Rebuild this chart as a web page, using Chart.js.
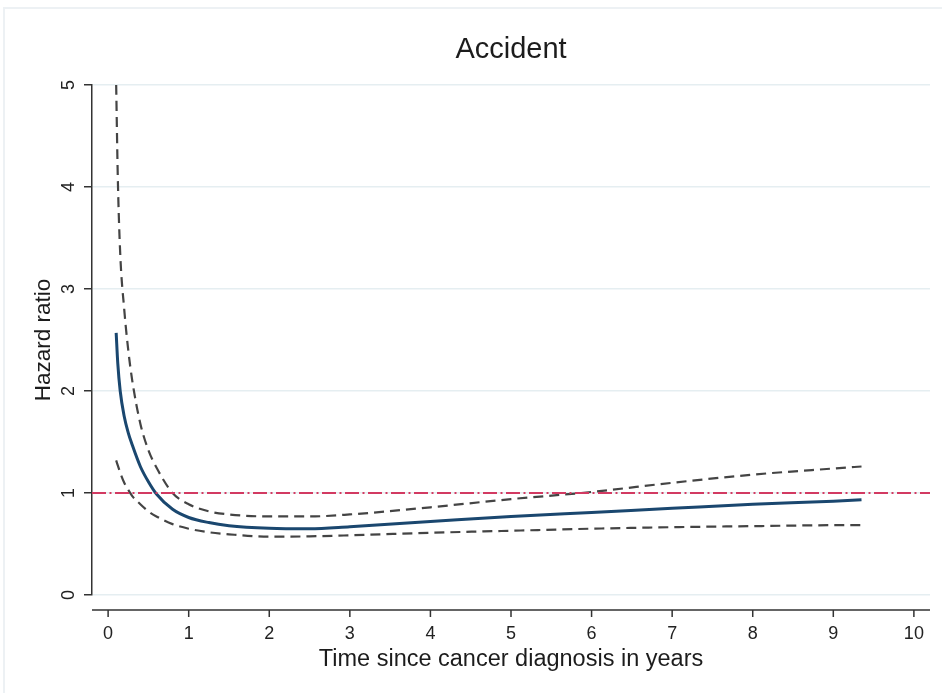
<!DOCTYPE html>
<html>
<head>
<meta charset="utf-8">
<title>Accident</title>
<script src="https://cdn.jsdelivr.net/npm/chart.js@4/dist/chart.umd.min.js"></script>
<style>
  html, body { margin: 0; padding: 0; background: #ffffff; }
  canvas { display: block; }
</style>
</head>
<body>
<canvas id="chart" width="942" height="693"></canvas>
<script>
// Time since diagnosis (years) at which the curves are sampled
const years = [0.1, 0.12, 0.15, 0.2, 0.25, 0.3, 0.4, 0.5, 0.6, 0.8, 1.0, 1.25, 1.5, 2.0, 2.5, 3, 4, 5, 6, 7, 8, 9, 9.35];
// Hazard ratio estimate
const hazardRatio = [2.57, 2.27, 2.0, 1.75, 1.59, 1.47, 1.26, 1.11, 0.99, 0.84, 0.76, 0.71, 0.68, 0.655, 0.65, 0.67, 0.72, 0.77, 0.81, 0.85, 0.89, 0.92, 0.935];
// Upper 95% confidence limit
const upperCI = [5.0, 4.1, 3.35, 2.8, 2.4, 2.1, 1.68, 1.42, 1.25, 1.0, 0.89, 0.82, 0.79, 0.77, 0.77, 0.79, 0.86, 0.94, 1.01, 1.1, 1.18, 1.24, 1.26];
// Lower 95% confidence limit
const lowerCI = [1.32, 1.27, 1.2, 1.1, 1.03, 0.97, 0.89, 0.82, 0.77, 0.695, 0.65, 0.615, 0.595, 0.572, 0.575, 0.585, 0.61, 0.63, 0.65, 0.665, 0.675, 0.685, 0.686];
// Reference line (no difference in hazard)
const referenceHR = 1;
const xRange = [-0.2, 10.2];
const xTicks = [0, 1, 2, 3, 4, 5, 6, 7, 8, 9, 10];
const yTicks = [0, 1, 2, 3, 4, 5];
const chartTitle = 'Accident';

const FONT = "'Liberation Sans', Arial, Helvetica, sans-serif";
Chart.defaults.font.family = FONT;

const pts = vals => years.map((t, i) => ({ x: t, y: vals[i] }));

// White page with a light outer frame around the graph region
const framePlugin = {
  id: 'frame',
  beforeDraw(chart) {
    const ctx = chart.ctx;
    ctx.save();
    ctx.fillStyle = '#ffffff';
    ctx.fillRect(0, 0, chart.width, chart.height);
    ctx.strokeStyle = '#edf1f4';
    ctx.lineWidth = 2;
    ctx.strokeRect(4, 8, chart.width + 10, chart.height + 10);
    ctx.restore();
  }
};

// Title centred over the plot region
const plotTitlePlugin = {
  id: 'plotTitle',
  afterDraw(chart) {
    const ctx = chart.ctx;
    const a = chart.chartArea;
    ctx.save();
    ctx.fillStyle = '#1c1c1c';
    ctx.font = '29px ' + FONT;
    ctx.textAlign = 'center';
    ctx.textBaseline = 'middle';
    ctx.fillText(chartTitle, (a.left + a.right) / 2, 50);
    ctx.restore();
  }
};

// Detached x axis line with downward ticks, set slightly below the plot region
const xAxisPlugin = {
  id: 'detachedXAxis',
  afterDraw(chart) {
    const xs = chart.scales.x;
    const ctx = chart.ctx;
    const y0 = chart.chartArea.bottom + 15;
    ctx.save();
    ctx.strokeStyle = '#333333';
    ctx.lineWidth = 1.5;
    ctx.beginPath();
    ctx.moveTo(xs.left, y0);
    ctx.lineTo(xs.right, y0);
    xs.ticks.forEach(t => {
      const px = xs.getPixelForValue(t.value);
      ctx.moveTo(px, y0);
      ctx.lineTo(px, y0 + 7);
    });
    ctx.stroke();
    ctx.restore();
  }
};

new Chart(document.getElementById('chart'), {
  type: 'line',
  data: {
    datasets: [
      {
        label: 'Reference',
        data: [{ x: xRange[0], y: referenceHR }, { x: xRange[1], y: referenceHR }],
        borderColor: '#d23a62',
        borderWidth: 2.2,
        borderDash: [14, 3.5, 2, 3.5],
        pointRadius: 0,
        tension: 0
      },
      {
        label: 'Upper CI',
        data: pts(upperCI),
        borderColor: '#444444',
        borderWidth: 2.2,
        borderDash: [10, 6],
        pointRadius: 0,
        cubicInterpolationMode: 'monotone'
      },
      {
        label: 'Lower CI',
        data: pts(lowerCI),
        borderColor: '#444444',
        borderWidth: 2.2,
        borderDash: [10, 6],
        pointRadius: 0,
        cubicInterpolationMode: 'monotone'
      },
      {
        label: 'Hazard ratio',
        data: pts(hazardRatio),
        borderColor: '#1a476f',
        borderWidth: 3,
        pointRadius: 0,
        cubicInterpolationMode: 'monotone'
      }
    ]
  },
  options: {
    responsive: false,
    animation: false,
    layout: { padding: { left: 0, right: 12, top: 85, bottom: 0 } },
    plugins: {
      legend: { display: false },
      tooltip: { enabled: false },
      title: { display: false }
    },
    scales: {
      x: {
        type: 'linear',
        min: xRange[0],
        max: xRange[1],
        afterBuildTicks: s => { s.ticks = xTicks.map(v => ({ value: v })); },
        afterFit: s => { s.height = 98; s.paddingLeft = 0; s.paddingRight = 0; },
        grid: { display: false, drawTicks: false },
        border: { display: false },
        ticks: {
          color: '#222222',
          font: { size: 18, family: FONT },
          padding: 28,
          maxRotation: 0,
          minRotation: 0
        },
        title: {
          display: true,
          text: 'Time since cancer diagnosis in years',
          color: '#1c1c1c',
          font: { size: 23.5, family: FONT },
          padding: { top: 0, bottom: 19 }
        }
      },
      y: {
        type: 'linear',
        min: 0,
        max: 5,
        afterBuildTicks: s => { s.ticks = yTicks.map(v => ({ value: v })); },
        afterFit: s => { s.width = 92; },
        grid: {
          color: '#e5eef1',
          lineWidth: 1.5,
          drawTicks: true,
          tickLength: 8,
          tickColor: '#333333',
          tickWidth: 1.5
        },
        border: { display: true, color: '#333333', width: 1.5 },
        ticks: {
          color: '#222222',
          font: { size: 18, family: FONT },
          minRotation: 90,
          maxRotation: 90,
          crossAlign: 'center',
          padding: 10
        },
        title: {
          display: true,
          text: 'Hazard ratio',
          color: '#1c1c1c',
          font: { size: 22.5, family: FONT },
          padding: { top: 30, bottom: 0 }
        }
      }
    }
  },
  plugins: [framePlugin, plotTitlePlugin, xAxisPlugin]
});
</script>
</body>
</html>
